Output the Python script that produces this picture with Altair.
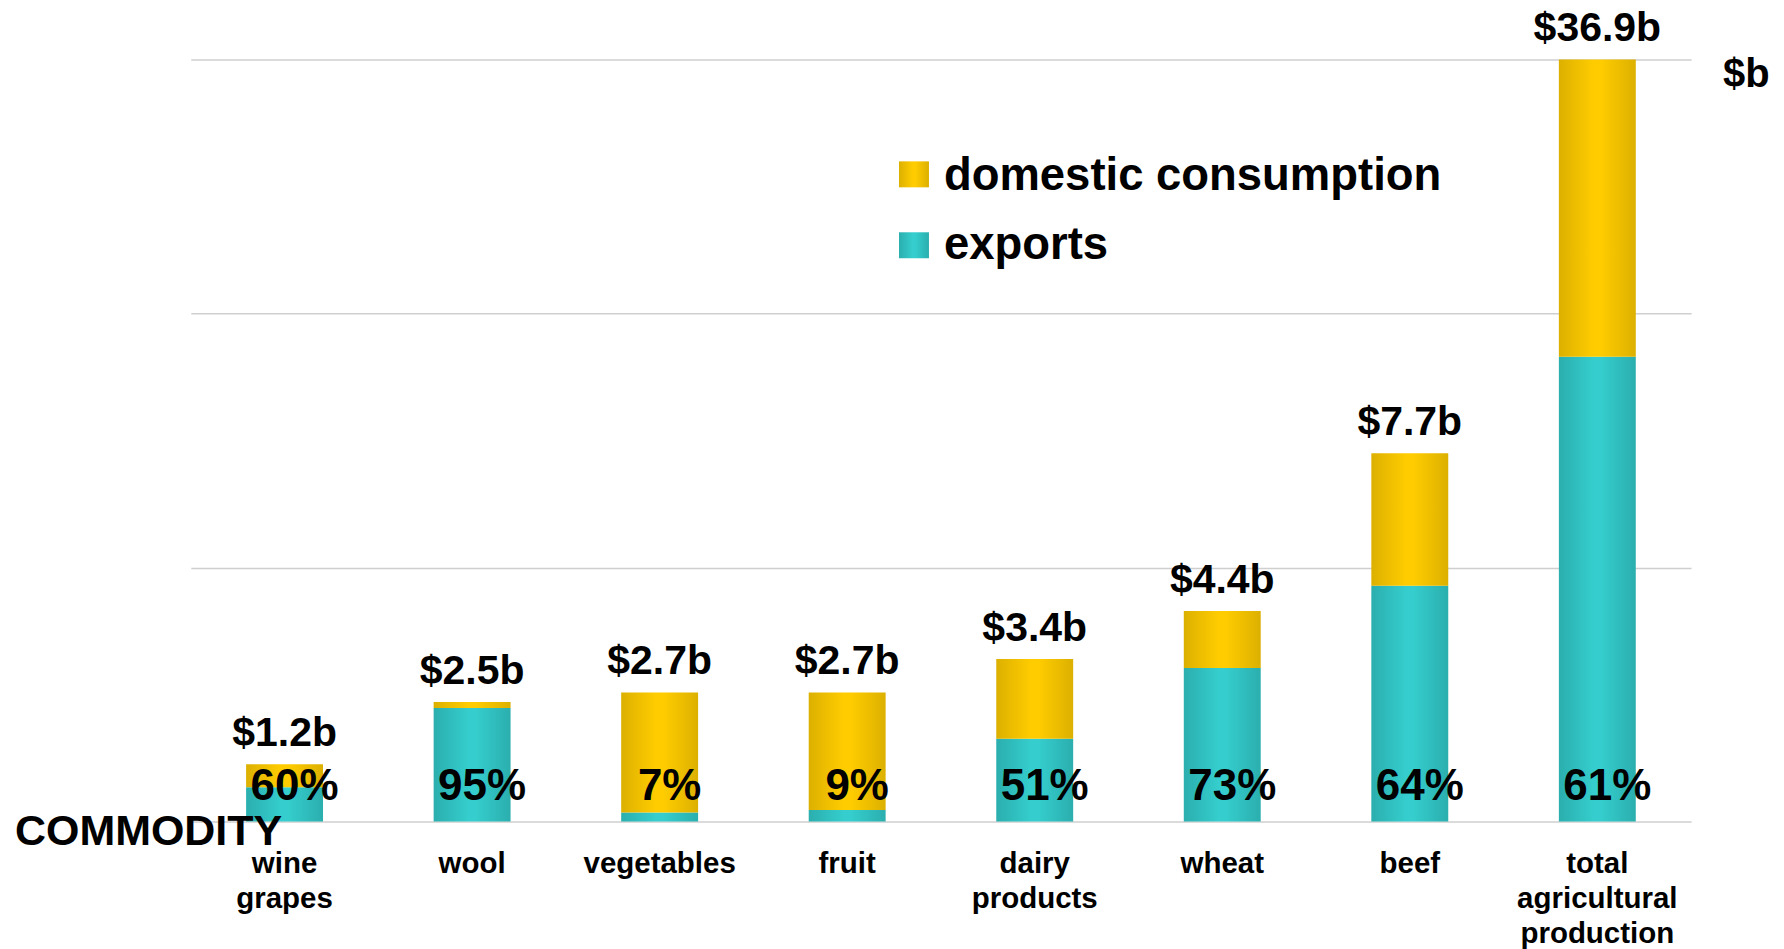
import altair as alt
import pandas as pd

# ---- data ----
categories = ["wine grapes", "wool", "vegetables", "fruit", "dairy products",
              "wheat", "beef", "total agricultural production"]
totals = [1.2, 2.5, 2.7, 2.7, 3.4, 4.4, 7.7, 36.9]          # $ billion
export_pct = [60, 95, 7, 9, 51, 73, 64, 61]                  # % exported
groups = ["item", "item", "item", "item", "item", "item", "item", "total"]
series = ["domestic consumption", "exports"]
grid_values = [0, 12.3, 24.6, 36.9]

df = pd.DataFrame({"category": categories, "total": totals,
                   "pct": export_pct, "group": groups})
df["exports"] = df["total"] * df["pct"] / 100.0
df["value_label"] = df["total"].map(lambda v: f"${v:.1f}b")
df["pct_label"] = df["pct"].map(lambda p: f"{p}%")

FONT = "Liberation Sans"


def grad(edge, mid):
    return {"gradient": "linear", "x1": 0, "x2": 1, "y1": 0, "y2": 0,
            "stops": [{"offset": 0, "color": edge},
                      {"offset": 0.45, "color": mid},
                      {"offset": 0.55, "color": mid},
                      {"offset": 1, "color": edge}]}


TEAL = grad("#2BAEAE", "#35CDCD")
GOLD = grad("#DCB000", "#FFCC00")

x_enc = alt.X(
    "category:N",
    sort=categories,
    scale=alt.Scale(domain=categories, paddingInner=0.59, paddingOuter=0.295),
    axis=alt.Axis(title=None, labelAngle=0,
                  labelExpr="split(datum.label, ' ')",
                  labelFont=FONT, labelFontWeight="bold", labelFontSize=29.5,
                  labelLineHeight=35, labelColor="black", labelPadding=28,
                  ticks=False, tickSize=0, domain=False, grid=False,
                  labelLimit=400, labelOverlap=False),
)

sc_item = alt.Scale(domain=[0, 15.93], nice=False)
sc_total = alt.Scale(domain=[0, 36.9], nice=False)

grid_axis = alt.Axis(values=grid_values, grid=True, labels=False, ticks=False,
                     domain=False, title=None, gridColor="#CFCFCF",
                     gridWidth=1.5)


def bar_layers(group, sc, axis):
    base = alt.Chart(df).transform_filter(f"datum.group == '{group}'")
    exp = base.mark_bar(size=77, fill=TEAL).encode(
        x=x_enc, y=alt.Y("exports:Q", scale=sc, axis=axis))
    dom = base.mark_bar(size=77, fill=GOLD).encode(
        x=x_enc, y=alt.Y("exports:Q", scale=sc, axis=None), y2="total:Q")
    lab = base.mark_text(font=FONT, fontWeight="bold", fontSize=41, dy=-18,
                         baseline="alphabetic", align="center",
                         color="black").encode(
        x=x_enc, y=alt.Y("total:Q", scale=sc, axis=None),
        text="value_label:N")
    return [exp, dom, lab]


layers = bar_layers("total", sc_total, grid_axis) + bar_layers("item", sc_item, None)

pct = alt.Chart(df).mark_text(font=FONT, fontWeight="bold", fontSize=44,
                              dx=10, baseline="alphabetic", align="center",
                              color="black").encode(
    x=x_enc, y=alt.value(741), text="pct_label:N")
layers.append(pct)

commodity = alt.Chart(pd.DataFrame({"t": ["COMMODITY"]})).mark_text(
    font=FONT, fontWeight="bold", fontSize=43, align="left",
    baseline="alphabetic", color="black").encode(
    x=alt.value(-176), y=alt.value(786), text="t:N")
unit = alt.Chart(pd.DataFrame({"t": ["$b"]})).mark_text(
    font=FONT, fontWeight="bold", fontSize=40, align="left",
    baseline="alphabetic", color="black").encode(
    x=alt.value(1534), y=alt.value(27.5), text="t:N")
layers += [commodity, unit]

for i, (name, fill) in enumerate(zip(series, [GOLD, TEAL])):
    sw = alt.Chart(pd.DataFrame({"s": [name]})).mark_rect(fill=fill).encode(
        x=alt.value(709), x2=alt.value(739),
        y=alt.value(102 + 71 * i), y2=alt.value(128 + 71 * i))
    tx = alt.Chart(pd.DataFrame({"s": [name]})).mark_text(
        font=FONT, fontWeight="bold", fontSize=45.5, align="left",
        baseline="alphabetic", color="black").encode(
        x=alt.value(754), y=alt.value(131 + 69 * i), text="s:N")
    layers += [sw, tx]

chart = alt.layer(*layers).resolve_scale(y="independent").properties(
    width=1502, height=763,
    autosize=alt.AutoSizeParams(type="none"),
    padding={"left": 183, "top": 51, "right": 85, "bottom": 127},
).configure_view(stroke=None)

chart.save("out.html", embed_options={"renderer": "svg", "actions": False})
